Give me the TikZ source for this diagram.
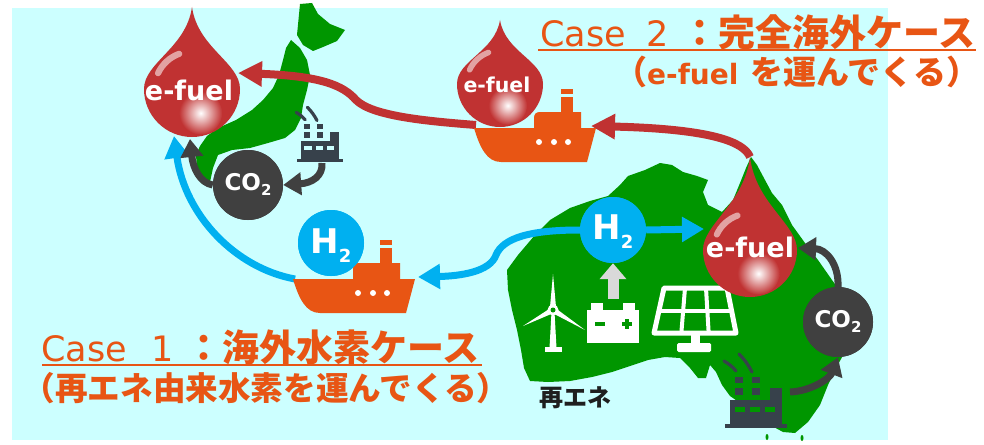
\documentclass[tikz,border=0pt]{standalone}
\usepackage{fontspec}
\setmainfont{DejaVu Sans}
\newfontfamily\cjk{Noto Sans CJK JP}
\usetikzlibrary{arrows.meta,calc}

\definecolor{seacyan}{RGB}{204,255,255}
\definecolor{landgreen}{RGB}{0,150,0}
\definecolor{dropred}{RGB}{192,50,50}
\definecolor{shiporange}{RGB}{232,85,20}
\definecolor{textorange}{RGB}{232,85,20}
\definecolor{h2blue}{RGB}{0,176,240}
\definecolor{co2gray}{RGB}{64,64,64}
\definecolor{plantslate}{RGB}{55,65,75}
\definecolor{lightarrow}{RGB}{217,217,217}

% e-fuel droplet: centre x, centre y, radius, tip y
\newcommand\fueldrop[4]{%
  \fill[dropred] (#1,#4) .. controls ({#1+0.12*#3},{#4+0.5*(#2-#4)}) and ({#1+#3},{#2-0.55*#3}) .. ({#1+#3},#2)
    arc[start angle=0, end angle=180, radius=#3]
    .. controls ({#1-#3},{#2-0.55*#3}) and ({#1-0.12*#3},{#4+0.5*(#2-#4)}) .. cycle;
  \draw[white, opacity=0.55, line width={0.13*#3}, line cap=round]
    ({#1+0.78*#3*cos(250)},{#2+0.78*#3*sin(250)}) arc[start angle=250, end angle=205, radius={0.78*#3}];
  \shade[inner color=white, outer color=dropred] ({#1+0.18*#3},{#2+0.5*#3}) circle ({0.45*#3});
}

% factory icon: base x, base y, scale, window colour
\newcommand\plant[4]{%
  \begin{scope}[shift={(#1,#2)}, scale=#3]
    \fill[plantslate] (0,-4) rectangle (62,0);
    \fill[plantslate] (5,-28) rectangle (57,-4);
    \fill[plantslate] (45,-40) rectangle (57,-28);
    \fill[plantslate] (10,-51) rectangle (18,-45);
    \fill[plantslate] (27,-51) rectangle (35,-45);
    \fill[plantslate] (10,-40) rectangle (18,-33);
    \fill[plantslate] (27,-40) rectangle (35,-33);
    \draw[plantslate, line width=3.2pt, line cap=round] (-1,-67) .. controls (4,-64) and (8,-61) .. (11,-57);
    \draw[plantslate, line width=3.2pt, line cap=round] (14,-74) .. controls (20,-68) and (24,-62) .. (27,-56);
    \foreach \wx in {10,25,40} \fill[#4] (\wx,-21) rectangle ++(10,5);
  \end{scope}}

\tikzset{
  cargoship/.pic={
    \fill[shiporange] (0,0) -- (122,0) -- (113,34) -- (27,34) .. controls (13,34) and (6,20) .. (0,0) -- cycle;
    \fill[shiporange] (60,0) -- (60,-10) .. controls (60,-14) and (62,-16) .. (66,-16) -- (107,-16) -- (107,0) -- cycle;
    \fill[shiporange] (87,-39) rectangle (99,-34);
    \fill[shiporange] (87,-31) rectangle (99,-16);
    \foreach \dx in {65,80,94} \fill[white] (\dx,14) circle (3);
  },
  redflow/.style={draw=dropred, line width=8pt, -{Triangle[length=24pt,width=24pt]}},
  blueflow/.style={draw=h2blue, line width=7pt, -{Triangle[length=22pt,width=24pt]}},
  co2flow/.style={draw=co2gray, line width=7pt, -{Triangle[length=18pt,width=22pt]}},
  h2ball/.style={circle, fill=h2blue, minimum size=66pt, inner sep=0pt, text=white, text depth=0pt, font=\bfseries},
  co2ball/.style={circle, fill=co2gray, minimum size=70pt, inner sep=0pt, text=white, text depth=0pt, text height=10pt, font=\bfseries},
  fueltext/.style={text=white, inner sep=0pt, anchor=base, font=\bfseries},
  caption/.style={text=textorange, inner sep=0pt, anchor=base west},
}

\begin{document}
\begin{tikzpicture}[x=1pt,y=-1pt]
\useasboundingbox (0,0) rectangle (984,444);

% sea
\fill[seacyan] (12,8) rectangle (888,440);

% Japan: Hokkaido, then Honshu with Kyushu
\fill[landgreen] (300,4) -- (312,3) -- (318,14) -- (330,24) -- (345,30) -- (337,41) -- (323,47) -- (313,51) -- (303,45) -- (297,35) -- cycle;
\fill[landgreen] (291,40) -- (300,48) -- (307,60) -- (310,75) -- (307,90) -- (303,105) -- (301,118) -- (295,130) -- (285,138)
  -- (268,143) -- (250,148) -- (232,150) -- (218,155) -- (213,168) -- (210,182) -- (202,184) -- (197,170) -- (196,155)
  -- (200,146) -- (207,136) -- (218,128) -- (236,120) -- (252,110) -- (263,100) -- (273,88) -- (279,75)
  -- (283,60) -- (286,48) -- cycle;

% Australia
\fill[landgreen] (507,270) -- (518,255) -- (535,235) -- (550,220) -- (570,208) -- (590,201) -- (608,196) -- (620,185) -- (628,176)
  -- (645,170) -- (660,163) -- (672,165) -- (683,172) -- (697,176) -- (708,180) -- (703,192) -- (708,205) -- (722,212) -- (733,200)
  -- (740,183) -- (746,168) -- (751,157) -- (757,165) -- (765,180) -- (772,193) -- (782,205) -- (792,225) -- (805,243) -- (818,260)
  -- (832,280) -- (845,298) -- (852,325) -- (846,350) -- (836,368) -- (828,385) -- (820,405) -- (808,422) -- (795,433) -- (783,432)
  -- (770,425) -- (757,415) -- (743,405) -- (730,396) -- (722,385) -- (716,372) -- (710,365) -- (706,378) -- (698,378) -- (690,368)
  -- (680,358) -- (665,357) -- (648,360) -- (630,366) -- (612,372) -- (592,377) -- (570,381) -- (548,382) -- (530,381) -- (524,368)
  -- (521,350) -- (517,330) -- (512,310) -- (508,290) -- cycle;
\fill[landgreen] (767,437) ellipse (1.5 and 3);
\fill[landgreen] (802,438) ellipse (1.5 and 3);

% factories
\plant{297}{162}{0.74}{seacyan}
\plant{725}{428}{1}{landgreen}

% wind turbine
\fill[white] (551.5,312) -- (554.5,312) -- (556.5,348) -- (549.5,348) -- cycle;
\fill[white] (545,347) rectangle (562,352);
\fill[white] (550,307) -- (553,274) -- (556,307) -- cycle;
\fill[white] (554.4,312.6) -- (523,326) -- (551.6,307.4) -- cycle;
\fill[white] (551.4,312.5) -- (585,330) -- (554.6,307.5) -- cycle;
\fill[white] (553,310) circle (5.5);
\fill[landgreen] (553,310) circle (2.5);

% battery
\fill[white] (587,310) rectangle (639,343);
\fill[white] (591,303) rectangle (603,311);
\fill[white] (623,303) rectangle (635,311);
\fill[landgreen] (595,322) rectangle (605,325.5);
\fill[landgreen] (622,322) rectangle (632,325.5);
\fill[landgreen] (625.3,318.7) rectangle (628.7,328.8);

% solar panel
\coordinate (pTL) at (664,288);
\coordinate (pTR) at (727,288);
\coordinate (pBR) at (736,333);
\coordinate (pBL) at (654,333);
\draw[white, line width=5pt, line join=round] (pTL) -- (pTR) -- (pBR) -- (pBL) -- cycle;
\draw[white, line width=4pt] ($(pTL)!1/3!(pTR)$) -- ($(pBL)!1/3!(pBR)$);
\draw[white, line width=4pt] ($(pTL)!2/3!(pTR)$) -- ($(pBL)!2/3!(pBR)$);
\draw[white, line width=4pt] ($(pTL)!1/2!(pBL)$) -- ($(pTR)!1/2!(pBR)$);
\fill[white] (691,335) rectangle (700,344);
\fill[white, rounded corners=1.5pt] (677,343) rectangle (711,352);

% named anchor points
\coordinate (battop) at (613,299);
\coordinate (audroptip) at (750,157);
\coordinate (audropleft) at (704,229);
\coordinate (audropright) at (798,248);
\coordinate (ship2stern) at (591,126);
\coordinate (ship2bow) at (476,125);
\coordinate (jpdropright) at (238,73);
\coordinate (jpdropbottom) at (174,136);
\coordinate (jpdropbase) at (190,139);
\coordinate (ship1stern) at (418,277);
\coordinate (ship1bow) at (295,279);
\coordinate (jpplant) at (322,163);
\coordinate (auplant) at (790,392);

% circles placed early so their borders can be referenced
\node[h2ball, text height=18pt] (h2au) at (613,230) {};
\node[h2ball, text height=20pt] (h2jp) at (331,243) {};
\node[co2ball] (co2jp) at (248,185) {};
\node[co2ball] (co2au) at (838,322) {};

% flows
\draw[lightarrow, line width=11pt, -{Triangle[length=16pt,width=26pt]}] (battop) -- (h2au.south);
\draw[redflow] (audroptip) .. controls (744,142) and (712,129) .. (ship2stern);
\draw[redflow] (ship2bow) .. controls (425,121) and (372,116) .. (356,100) .. controls (343,85) and (320,76) .. (jpdropright);
\draw[blueflow] (h2au.west) .. controls (530,230) and (503,238) .. (496,255) .. controls (490,272) and (460,276) .. (ship1stern);
\draw[blueflow] (ship1bow) .. controls (235,268) and (185,215) .. (jpdropbottom);
\draw[blueflow] (h2au.east) -- (audropleft);
\draw[co2flow] (co2jp.west) .. controls (200,183) and (193,168) .. (jpdropbase);
\draw[co2flow] (jpplant) .. controls (323,176) and (312,183) .. (co2jp.east);
\draw[co2flow] (co2au.north) .. controls (839,264) and (826,249) .. (audropright);
\draw[co2flow] (auplant) .. controls (812,391) and (830,378) .. (co2au.south);

% ships
\pic (ship1) at (293,279) {cargoship};
\pic (ship2) at (474,128) {cargoship};

% droplets
\fueldrop{192}{89}{48}{7}
\fueldrop{500}{84}{43}{20}
\fueldrop{750}{250}{47}{157}
\node[fueltext, font=\bfseries\fontsize{27}{27}\selectfont] (fueljp) at (189,100) {e-fuel};
\node[fueltext, font=\bfseries\fontsize{20.5}{20.5}\selectfont] (fuelship) at (497,92) {e-fuel};
\node[fueltext, font=\bfseries\fontsize{27}{27}\selectfont] (fuelau) at (750,257) {e-fuel};

% circles on top
\node[h2ball, text height=18pt] at (h2au) {\fontsize{34}{34}\selectfont H\raisebox{-9pt}{\fontsize{18}{18}\selectfont 2}};
\node[h2ball, text height=20pt] at (h2jp) {\fontsize{34}{34}\selectfont H\raisebox{-9pt}{\fontsize{18}{18}\selectfont 2}};
\node[co2ball] at (co2jp) {\fontsize{23}{23}\selectfont CO\raisebox{-5pt}{\fontsize{15}{15}\selectfont 2}};
\node[co2ball] at (co2au) {\fontsize{23}{23}\selectfont CO\raisebox{-5pt}{\fontsize{15}{15}\selectfont 2}};

% captions
\node[caption] (case2) at (540,47) {\fontsize{35}{35}\selectfont Case\hspace{20.4pt}2\hspace{13.2pt}{\cjk\bfseries\fontsize{37}{37}\selectfont ：完全海外ケース}};
\draw[textorange, line width=2pt] ($(case2.base west)+(-2,3)$) -- ($(case2.base east)+(0,3)$);
\node[caption] (case2sub) at (614,84.5) {{\cjk\bfseries\fontsize{33}{33}\selectfont （}{\bfseries\fontsize{28}{28}\selectfont e-fuel}\hspace{12pt}{\cjk\bfseries\fontsize{33}{33}\selectfont を運んでくる）}};

\node[caption] (case1) at (41,361) {\fontsize{35}{35}\selectfont Case\hspace{24.5pt}1\hspace{11.6pt}{\cjk\bfseries\fontsize{37}{37}\selectfont ：海外水素ケース}};
\draw[textorange, line width=2pt] ($(case1.base west)+(1,4)$) -- ($(case1.base east)+(2,4)$);
\node[caption] (case1sub) at (22.5,400.5) {\cjk\bfseries\fontsize{32.6}{32.6}\selectfont （再エネ由来水素を運んでくる）};

\node[anchor=base west, inner sep=0pt, text=black!88] (renew) at (539,406.5) {\cjk\bfseries\fontsize{24}{24}\selectfont 再エネ};
\end{tikzpicture}
\end{document}
